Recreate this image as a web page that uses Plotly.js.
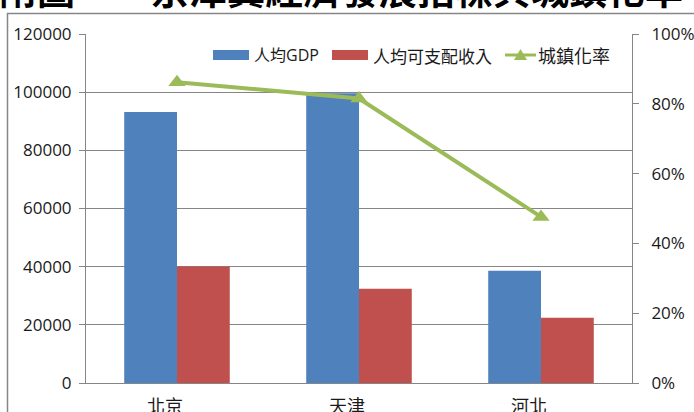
<!DOCTYPE html>
<html><head><meta charset="utf-8">
<script src="https://cdn.plot.ly/plotly-3.0.1.min.js"></script>
<style>html,body{margin:0;padding:0;background:#fff;overflow:hidden}#chart{width:694px;height:412px}</style>
</head><body><div id="chart"></div>
<script>
// ---- data ----
const categories = ['北京', '天津', '河北'];
const gdpPerCapita = [93200, 99600, 38600];
const disposableIncome = [40100, 32400, 22450];
const urbanizationRate = [0.862, 0.815, 0.476];
const seriesNames = ['人均GDP', '人均可支配收入', '城鎮化率'];
const titleText = '附圖一　京津冀經濟發展指標與城鎮化率';

// ---- layout helpers (pixel -> paper) ----
const L = 86, R = 632, T = 34, B = 383;
const px = x => (x - L) / (R - L);
const py = y => (B - y) / (B - T);

const FONT = 'Open Sans, Noto Sans CJK TC, sans-serif';
const CJK = 'Noto Sans CJK TC, sans-serif';
const blue = '#4F81BD', red = '#C0504D', green = '#9BBB59', gray = '#868686';

const traces = [
  {type: 'bar', x: categories, y: gdpPerCapita, name: seriesNames[0], marker: {color: blue}},
  {type: 'bar', x: categories, y: disposableIncome, name: seriesNames[1], marker: {color: red}},
  {type: 'scatter', mode: 'lines+markers', x: categories, y: urbanizationRate, yaxis: 'y2', name: seriesNames[2],
   line: {color: green, width: 4}, marker: {symbol: 'triangle-up', size: 15, color: green}}
];

const legendY = 55;
const layout = {
  width: 694, height: 412,
  margin: {l: L, r: 694 - R, t: T, b: 412 - B, pad: 0},
  paper_bgcolor: '#fff', plot_bgcolor: '#fff',
  barmode: 'group', bargap: 0.42, bargroupgap: 0,
  showlegend: false,
  font: {family: FONT, color: '#1a1a1a', size: 17},
  xaxis: {type: 'category', range: [-0.5, 2.5], showline: true, linecolor: gray, linewidth: 1,
          ticks: '', showgrid: false, zeroline: false, tickfont: {family: CJK, size: 18, color: '#1a1a1a'},
          ticklabelstandoff: 7, ticklabelshift: -12},
  yaxis: {range: [0, 120000], dtick: 20000, tickformat: 'd', showgrid: true, gridcolor: gray, gridwidth: 1,
          showline: true, linecolor: gray, linewidth: 1, ticks: 'outside', ticklen: 6, tickcolor: gray,
          zeroline: false, tickfont: {size: 17}, ticklabelstandoff: 4},
  yaxis2: {overlaying: 'y', side: 'right', range: [0, 1], dtick: 0.2, tickformat: '.0%', showgrid: false,
           showline: true, linecolor: gray, linewidth: 1, ticks: 'outside', ticklen: 6, tickcolor: gray,
           zeroline: false, tickfont: {size: 17}, ticklabelstandoff: 9},
  shapes: [
    // chart border
    {type: 'rect', xref: 'paper', yref: 'paper', x0: px(7.5), x1: px(720), y0: py(430), y1: py(13.5),
     line: {color: gray, width: 1.5}, fillcolor: 'rgba(0,0,0,0)', layer: 'below'},
    // legend swatches
    {type: 'rect', xref: 'paper', yref: 'paper', x0: px(213), x1: px(249), y0: py(60), y1: py(50),
     line: {width: 0}, fillcolor: blue},
    {type: 'rect', xref: 'paper', yref: 'paper', x0: px(332), x1: px(368), y0: py(60), y1: py(50),
     line: {width: 0}, fillcolor: red},
    {type: 'line', xref: 'paper', yref: 'paper', x0: px(505), x1: px(536), y0: py(legendY), y1: py(legendY),
     line: {color: green, width: 3}},
    {type: 'path', xref: 'paper', yref: 'paper',
     path: `M${px(514)},${py(60)} L${px(520.5)},${py(49)} L${px(527)},${py(60)} Z`,
     line: {width: 0}, fillcolor: green}
  ],
  annotations: [
    {xref: 'paper', yref: 'paper', x: px(252), y: py(legendY), xanchor: 'left', yanchor: 'middle',
     text: seriesNames[0], showarrow: false, font: {family: FONT, size: 16, color: '#1a1a1a'}},
    {xref: 'paper', yref: 'paper', x: px(371), y: py(legendY), xanchor: 'left', yanchor: 'middle',
     text: seriesNames[1], showarrow: false, font: {family: CJK, size: 17, color: '#1a1a1a'}},
    {xref: 'paper', yref: 'paper', x: px(536), y: py(legendY), xanchor: 'left', yanchor: 'middle',
     text: seriesNames[2], showarrow: false, font: {family: CJK, size: 18, color: '#1a1a1a'}},
    {xref: 'paper', yref: 'paper', x: px(-3), y: py(-13), xanchor: 'left', yanchor: 'middle',
     text: '<b>' + titleText + '</b>', showarrow: false, font: {family: CJK, size: 38, color: '#000'}}
  ]
};

Plotly.newPlot('chart', traces, layout, {displayModeBar: false, staticPlot: true});
</script></body></html>
